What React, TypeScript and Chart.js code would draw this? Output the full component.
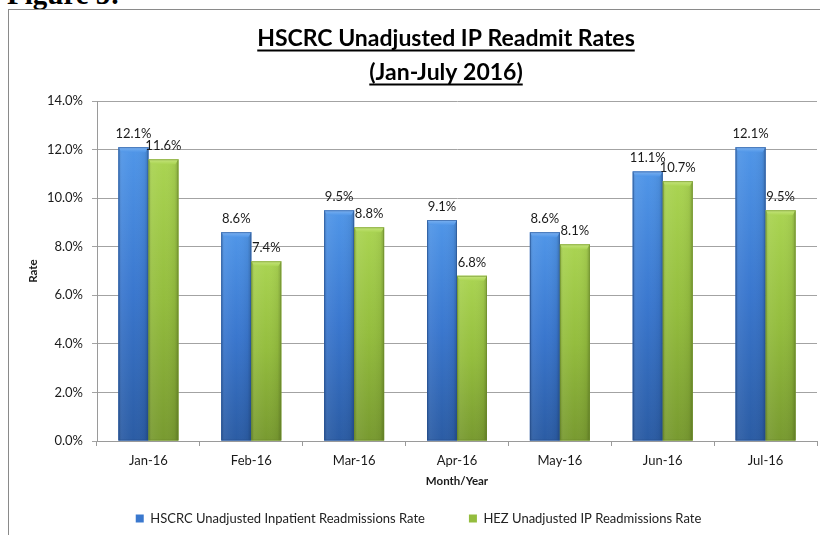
import React, { useEffect, useRef } from 'react';
import { Chart, registerables } from 'chart.js';

Chart.register(...registerables);

const categories = ['Jan-16', 'Feb-16', 'Mar-16', 'Apr-16', 'May-16', 'Jun-16', 'Jul-16'];
const hscrcRates = [12.1, 8.6, 9.5, 9.1, 8.6, 11.1, 12.1];
const hezRates = [11.6, 7.4, 8.8, 6.8, 8.1, 10.7, 9.5];
const seriesNames = ['HSCRC Unadjusted Inpatient Readmissions Rate', 'HEZ Unadjusted IP Readmissions Rate'];
const titleLines = ['HSCRC Unadjusted IP Readmit Rates', '(Jan-July 2016)'];
const yAxisTitle = 'Rate';
const xAxisTitle = 'Month/Year';
const figureCaption = 'Figure 5:';
const yMin = 0;
const yMax = 14;
const yStep = 2;

const FONT = 'Lato, "Open Sans", sans-serif';
const TITLE_SIZE = 23;
const TITLE_LH = 34 / 23;
const TITLE_PAD_TOP = 12;

const palettes = [
  { top: '#5096E8', mid: '#3A77CE', bottom: '#2B5CA4', edge: '#264F8C', cap: '#7DB2F0', solid: '#3A78CE' },
  { top: '#AAD452', mid: '#94BD3E', bottom: '#789A30', edge: '#6A8828', cap: '#C6E57E', solid: '#94BD3E' },
];

const titleShift = {
  id: 'titleShift',
  afterLayout(chart: any) {
    const tb = chart.titleBlock;
    if (!tb) return;
    const d = 446 - (tb.left + tb.right) / 2;
    tb.left += d;
    tb.right += d;
  },
};

const titleUnderline = {
  id: 'titleUnderline',
  afterDraw(chart: any) {
    const tb = chart.titleBlock;
    if (!tb) return;
    const ctx = chart.ctx;
    const lh = TITLE_SIZE * TITLE_LH;
    const cx = (tb.left + tb.right) / 2;
    ctx.save();
    ctx.font = `bold ${TITLE_SIZE}px ${FONT}`;
    ctx.fillStyle = '#000';
    titleLines.forEach((line, i) => {
      const y = tb.top + TITLE_PAD_TOP + lh / 2 + i * lh;
      const w = ctx.measureText(line).width;
      ctx.fillRect(cx - w / 2, y + 10.5, w, 2);
    });
    ctx.restore();
  },
};

const barShade = {
  id: 'barShade',
  afterDatasetsDraw(chart: any) {
    const ctx = chart.ctx;
    const ca = chart.chartArea;
    ctx.save();
    ctx.beginPath();
    ctx.rect(ca.left, ca.top - 20, ca.right - ca.left, ca.bottom - ca.top + 20);
    ctx.clip();
    chart.data.datasets.forEach((_ds: any, di: number) => {
      const meta = chart.getDatasetMeta(di);
      const p = palettes[di];
      meta.data.forEach((el: any) => {
        const { x, y, base, width } = el.getProps(['x', 'y', 'base', 'width'], true);
        const l = x - width / 2;
        const h = base - y;
        const g = ctx.createLinearGradient(0, y, 0, base);
        g.addColorStop(0, p.top);
        g.addColorStop(0.5, p.mid);
        g.addColorStop(1, p.bottom);
        ctx.fillStyle = g;
        ctx.fillRect(l, y, width, h);
        const hg = ctx.createLinearGradient(l, 0, l + width, 0);
        hg.addColorStop(0, 'rgba(0,0,0,0.18)');
        hg.addColorStop(0.12, 'rgba(255,255,255,0.06)');
        hg.addColorStop(0.5, 'rgba(255,255,255,0.0)');
        hg.addColorStop(0.88, 'rgba(0,0,0,0.05)');
        hg.addColorStop(1, 'rgba(0,0,0,0.22)');
        ctx.fillStyle = hg;
        ctx.fillRect(l, y, width, h);
        const capH = Math.min(5, h);
        ctx.beginPath();
        ctx.moveTo(l, y);
        ctx.lineTo(l + width, y);
        ctx.lineTo(l + width - 3, y + capH);
        ctx.lineTo(l + 3, y + capH);
        ctx.closePath();
        const cg = ctx.createLinearGradient(0, y, 0, y + capH);
        cg.addColorStop(0, p.cap);
        cg.addColorStop(1, p.top);
        ctx.fillStyle = cg;
        ctx.fill();
        ctx.strokeStyle = p.edge;
        ctx.globalAlpha = 0.55;
        ctx.lineWidth = 1;
        ctx.strokeRect(l + 0.5, y + 0.5, width - 1, h - 1);
        ctx.globalAlpha = 1;
      });
    });
    ctx.restore();
  },
};

const valueLabels = {
  id: 'valueLabels',
  afterDatasetsDraw(chart: any) {
    const ctx = chart.ctx;
    ctx.save();
    ctx.font = `13px ${FONT}`;
    ctx.fillStyle = '#1a1a1a';
    ctx.textAlign = 'center';
    ctx.textBaseline = 'alphabetic';
    chart.data.datasets.forEach((ds: any, di: number) => {
      const meta = chart.getDatasetMeta(di);
      meta.data.forEach((el: any, i: number) => {
        ctx.fillText(Number(ds.data[i]).toFixed(1) + '%', el.x, el.y - 9);
      });
    });
    ctx.restore();
  },
};

export default function App() {
  const ref = useRef<HTMLCanvasElement | null>(null);

  useEffect(() => {
    if (!ref.current) return;
    const chart = new Chart(ref.current, {
      type: 'bar',
      data: {
        labels: categories,
        datasets: [
          { label: seriesNames[0], data: hscrcRates, backgroundColor: palettes[0].solid, borderWidth: 0 },
          { label: seriesNames[1], data: hezRates, backgroundColor: palettes[1].solid, borderWidth: 0 },
        ],
      },
      options: {
        responsive: false,
        animation: false,
        events: [],
        layout: { padding: { top: 10, left: 20, right: 3, bottom: 0 } },
        datasets: { bar: { categoryPercentage: 0.583, barPercentage: 1.0 } },
        plugins: {
          title: {
            display: true,
            text: titleLines,
            color: '#000',
            font: { family: FONT, size: TITLE_SIZE, weight: 'bold', lineHeight: TITLE_LH },
            padding: { top: TITLE_PAD_TOP, bottom: 101 - 10 - TITLE_PAD_TOP - 2 * TITLE_SIZE * TITLE_LH },
          },
          legend: {
            position: 'bottom',
            labels: {
              boxWidth: 8,
              boxHeight: 8,
              padding: 44,
              color: '#222',
              font: { family: FONT, size: 13 },
            },
          },
          tooltip: { enabled: false },
        },
        scales: {
          x: {
            grid: { display: true, drawOnChartArea: false, drawTicks: true, tickLength: 5, color: '#9a9a9a', offset: true },
            border: { color: '#9a9a9a' },
            ticks: { color: '#1a1a1a', font: { family: FONT, size: 13 }, padding: 7 },
            title: {
              display: true,
              text: xAxisTitle,
              color: '#1a1a1a',
              font: { family: FONT, size: 11.5, weight: 'bold' },
              padding: { top: 0, bottom: -20.6 },
            },
            afterFit: (s: any) => { s.height = 27; },
          },
          y: {
            min: yMin,
            max: yMax,
            grid: { color: '#a3a3a3', tickLength: 5 },
            border: { color: '#9a9a9a' },
            ticks: {
              stepSize: yStep,
              color: '#1a1a1a',
              font: { family: FONT, size: 13 },
              padding: 9,
              callback: (v: any) => Number(v).toFixed(1) + '%',
            },
            title: {
              display: true,
              text: yAxisTitle,
              color: '#1a1a1a',
              font: { family: FONT, size: 11.5, weight: 'bold' },
              padding: { top: 6.4, bottom: 0 },
            },
            afterFit: (s: any) => { s.width = 77; },
          },
        },
      },
      plugins: [titleShift, barShade, valueLabels, titleUnderline],
    });
    return () => chart.destroy();
  }, []);

  return (
    <div style={{ position: 'fixed', left: 0, top: 0, width: 820, height: 535, overflow: 'hidden', background: '#fff' }}>
      <div
        style={{
          position: 'absolute',
          left: 7,
          top: -20,
          fontFamily: '"Liberation Serif", "Times New Roman", serif',
          fontWeight: 'bold',
          fontSize: 29,
          lineHeight: '29px',
          color: '#000',
          whiteSpace: 'nowrap',
        }}
      >
        {figureCaption}
      </div>
      <div
        style={{
          position: 'absolute',
          left: 8,
          top: 9,
          width: 900,
          height: 700,
          border: '1px solid #8a8a8a',
          boxSizing: 'border-box',
        }}
      />
      <canvas ref={ref} width={820} height={535} style={{ position: 'absolute', left: 0, top: 0 }} />
    </div>
  );
}
